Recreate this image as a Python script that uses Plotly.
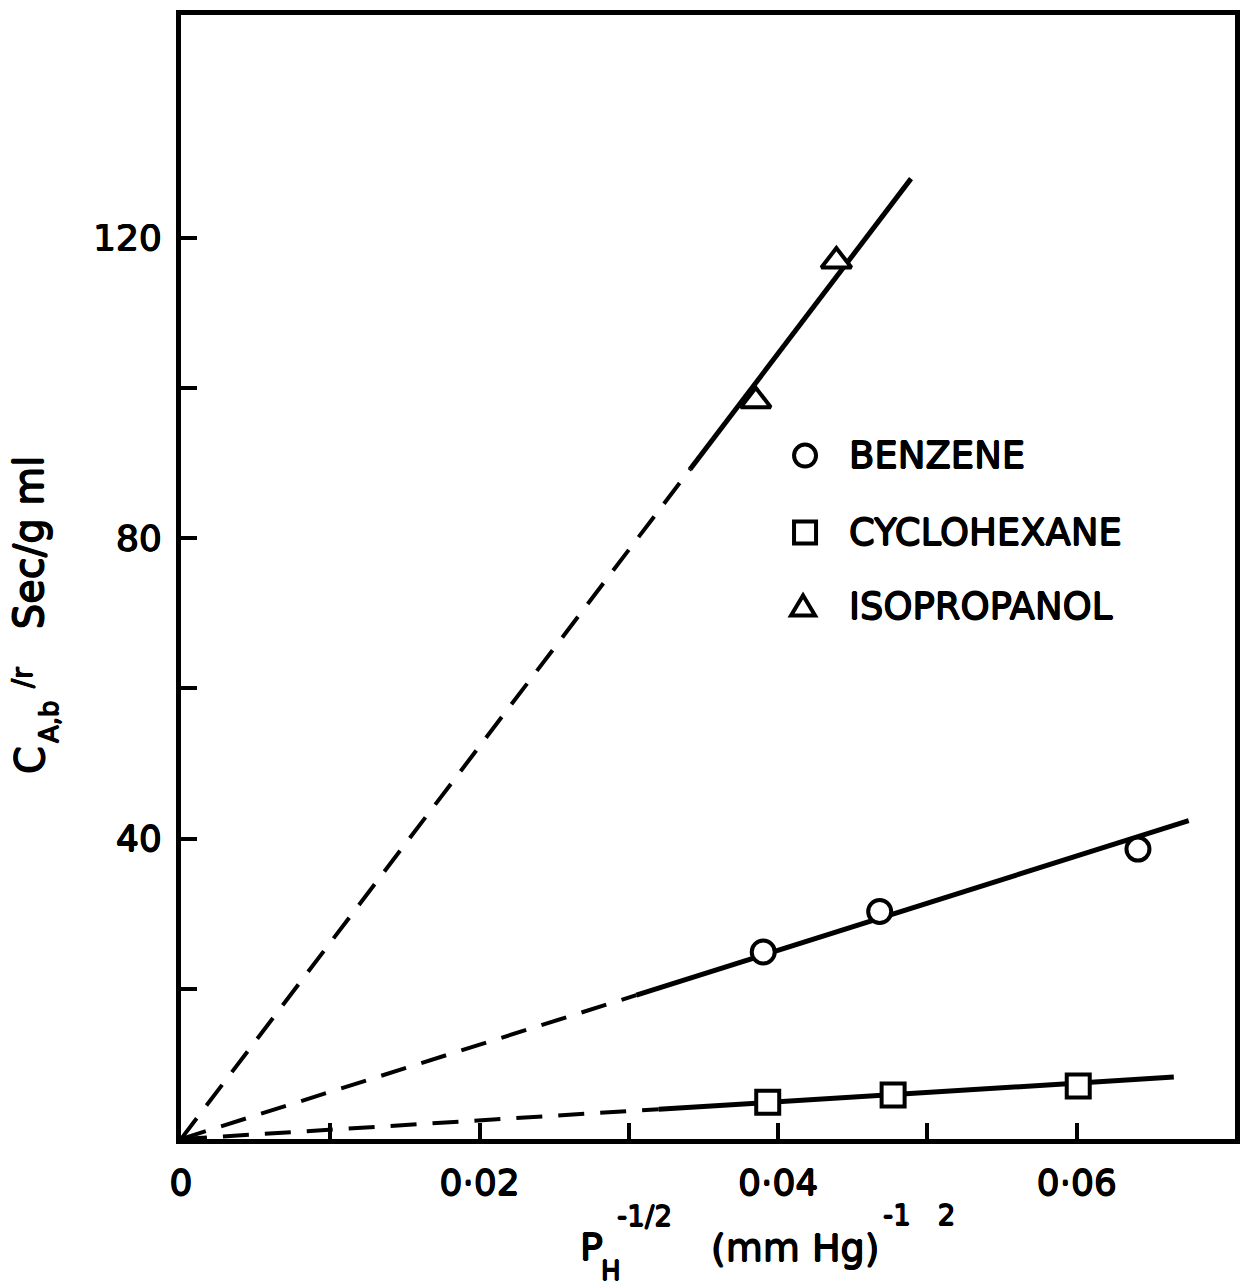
import plotly.graph_objects as go

# Measured points: x = P_H^-1/2 (mm Hg)^-1/2, y = C_A,b / r (sec/g ml)
benzene_x = [0.0390, 0.0468, 0.0641]
benzene_y = [24.9, 30.3, 38.6]
cyclohexane_x = [0.0393, 0.0477, 0.0601]
cyclohexane_y = [4.9, 5.85, 7.05]
isopropanol_x = [0.0385, 0.0439]
isopropanol_y = [98.3, 116.9]

# Straight lines through the origin: slope, where the solid part starts, where the line ends
fit_slopes = [628, 124, 2615]          # benzene, cyclohexane, isopropanol
fit_solid_from = [0.0305, 0.0320, 0.0341]
fit_x_end = [0.0675, 0.0665, 0.0489]

x_tick_values = [0, 0.01, 0.02, 0.03, 0.04, 0.05, 0.06]
x_tick_labels = ["0", "", "0·02", "", "0·04", "", "0·06"]
y_tick_values = [0, 20, 40, 60, 80, 100, 120]
y_tick_labels = ["", "", "40", "", "80", "", "120"]

legend_names = ["BENZENE", "CYCLOHEXANE", "ISOPROPANOL"]

FONT = "DejaVu Sans"
# thin outline to give the lettering a heavier pen stroke
INK = "0.7px 0 0 #000, -0.7px 0 0 #000, 0 0.7px 0 #000, 0 -0.7px 0 #000"
W_PX, H_PX = 1250, 1287
L, R, T, B = 181, 10, 14, 148
PLOT_W = W_PX - L - R
PLOT_H = H_PX - T - B


def px_x(px):
    return (px - L) / PLOT_W


def px_y(py):
    return (H_PX - B - py) / PLOT_H


def font(size):
    return dict(family=FONT, size=size, color="black", shadow=INK)


fig = go.Figure()

# fitted lines: dashed extrapolation to the origin, solid over the data range
for slope, x_solid, x_end in zip(fit_slopes, fit_solid_from, fit_x_end):
    fig.add_trace(go.Scatter(
        x=[0, x_solid], y=[0, slope * x_solid], mode="lines",
        line=dict(color="black", width=4, dash="26px,16px"),
        showlegend=False, hoverinfo="skip"))
    fig.add_trace(go.Scatter(
        x=[x_solid, x_end], y=[slope * x_solid, slope * x_end], mode="lines",
        line=dict(color="black", width=5),
        showlegend=False, hoverinfo="skip"))

marker_line = dict(color="black", width=4)
fig.add_trace(go.Scatter(
    x=benzene_x, y=benzene_y, mode="markers", name=legend_names[0],
    marker=dict(symbol="circle", size=23, color="white", line=marker_line),
    showlegend=False))
fig.add_trace(go.Scatter(
    x=cyclohexane_x, y=cyclohexane_y, mode="markers", name=legend_names[1],
    marker=dict(symbol="square", size=23, color="white", line=marker_line),
    showlegend=False))
fig.add_trace(go.Scatter(
    x=isopropanol_x, y=isopropanol_y, mode="markers", name=legend_names[2],
    marker=dict(symbol="triangle-up", size=26, color="white", line=marker_line),
    showlegend=False))

annotations = []
shapes = []


def text_piece(s, xpx, ypx, size, anchor="left", angle=0):
    annotations.append(dict(
        text=s, xref="paper", yref="paper", x=px_x(xpx), y=px_y(ypx),
        xanchor=anchor, yanchor="middle", showarrow=False, textangle=angle,
        font=font(size)))


# key: symbols drawn as fixed-pixel shapes, labels as text
key_rows_y = [455, 532, 606]
key_sym_x = 808
for name, ry in zip(legend_names, key_rows_y):
    text_piece(name, 850, ry, 37)

common = dict(xref="paper", yref="paper", xsizemode="pixel", ysizemode="pixel",
              line=dict(color="black", width=4), fillcolor="white")
shapes.append(dict(type="circle", xanchor=px_x(key_sym_x), yanchor=px_y(key_rows_y[0]),
                   x0=-11, x1=11, y0=-11, y1=11, **common))
shapes.append(dict(type="rect", xanchor=px_x(key_sym_x), yanchor=px_y(key_rows_y[1]),
                   x0=-11, x1=11, y0=-11, y1=11, **common))
shapes.append(dict(type="path", xanchor=px_x(key_sym_x - 2), yanchor=px_y(key_rows_y[2]),
                   path="M -12,-9 L 12,-9 L 0,11 Z", **common))

# x-axis title built from pieces so the sub/superscripts sit like the lettering
text_piece("P", 580, 1247, 38)
text_piece("H", 601, 1271, 26)
text_piece("-1/2", 617, 1217, 28)
text_piece("(mm Hg)", 712, 1248, 38)
text_piece("-1\u00a0\u00a0\u00a02", 884, 1216, 28)

# y-axis title, rotated
text_piece("C", 30, 760, 40, anchor="center", angle=-90)
text_piece("A,b", 49, 721, 26, anchor="center", angle=-90)
text_piece("/r", 22, 677, 28, anchor="center", angle=-90)
text_piece("Sec/g ml", 28, 542, 40, anchor="center", angle=-90)

axis_common = dict(
    showline=True, mirror=True, linecolor="black", linewidth=5,
    ticks="inside", ticklen=16, tickwidth=3.5, tickcolor="black",
    showgrid=False, zeroline=False, tickfont=font(36))

fig.update_xaxes(range=[0, PLOT_W / 15000], tickvals=x_tick_values,
                 ticktext=x_tick_labels, ticklabelstandoff=8, **axis_common)
fig.update_yaxes(range=[0, PLOT_H / 7.517], tickvals=y_tick_values,
                 ticktext=y_tick_labels, ticklabelstandoff=7, **axis_common)

fig.update_layout(
    width=W_PX, height=H_PX,
    margin=dict(l=L, r=R, t=T, b=B, pad=0),
    paper_bgcolor="white", plot_bgcolor="white",
    annotations=annotations, shapes=shapes,
    showlegend=False,
)

fig.write_html("out.html")
